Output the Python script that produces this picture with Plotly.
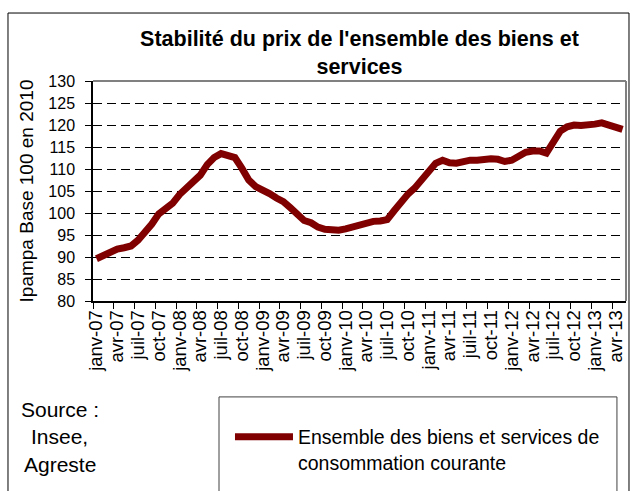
import plotly.graph_objects as go

# Indice Ipampa (base 100 en 2010), mensuel, janv-07 -> mai-13
mois_courts = ["janv", "févr", "mars", "avr", "mai", "juin",
               "juil", "août", "sept", "oct", "nov", "déc"]
annees = ["07", "08", "09", "10", "11", "12", "13"]
mois = [f"{m}-{a}" for a in annees for m in mois_courts][:77]

indice = [
    89.6, 90.3, 91.2, 91.8, 92.1, 92.5, 93.8, 95.5, 97.5, 99.8, 101.2, 102.2,
    104.2, 105.8, 107.2, 108.6, 111.0, 112.6, 113.5, 112.9, 112.6, 110.2, 107.5, 106.0,
    105.3, 104.4, 103.4, 102.6, 101.2, 99.8, 98.3, 97.8, 96.8, 96.3, 96.0, 96.1,
    96.4, 96.8, 97.4, 98.0, 98.1, 98.2, 98.5, 100.5, 102.6, 104.3, 105.7, 107.6,
    109.4, 111.3, 112.0, 111.4, 111.3, 111.7, 112.0, 112.0, 112.3, 112.3, 112.2, 111.7,
    112.0, 113.0, 113.8, 114.1, 114.1, 113.6, 116.2, 118.6, 119.6, 120.0, 119.9, 119.9,
    120.2, 120.5, 120.0, 119.3, 119.0,
]

titre = "<b>Stabilité du prix de l'ensemble des biens et<br>services</b>"
nom_serie = "Ensemble des biens et services de<br>consommation courante"
titre_y = "Ipampa Base 100 en 2010"
source_lignes = ["Source :", "Insee,", "Agreste"]

police = "Liberation Sans, Arial, sans-serif"

fig = go.Figure()
fig.add_trace(go.Scatter(x=mois, y=indice, mode="lines", name=nom_serie,
                         line=dict(color="#800000", width=7)))

fig.update_layout(
    width=632, height=491,
    margin=dict(l=93, r=6, t=81, b=190),
    paper_bgcolor="white", plot_bgcolor="white",
    font=dict(family=police, color="black", size=16),
    title=dict(text=titre, x=0.5, xref="paper", xanchor="center",
               y=1 - 46 / 491, yref="container", yanchor="middle",
               font=dict(size=21.5, family=police)),
    showlegend=True,
    legend=dict(x=0.257, xanchor="left", y=-0.53, yanchor="top",
                bgcolor="rgba(0,0,0,0)", valign="top", itemwidth=58,
                font=dict(size=19.5, family=police)),
)

fig.update_xaxes(type="category", tickmode="linear", tick0=0, dtick=3,
                 tickson="boundaries", ticks="outside", ticklen=6,
                 tickcolor="black", tickangle=-90, showgrid=False,
                 showline=True, linecolor="black", linewidth=1.5,
                 range=[-0.5, 76.5], tickfont=dict(size=18.5))

fig.update_yaxes(range=[80, 130], dtick=5, ticks="outside", ticklen=6,
                 tickcolor="black", showline=True, linecolor="black", linewidth=1.5,
                 showgrid=True, gridcolor="black", gridwidth=1, griddash="9px,5px",
                 ticklabelstandoff=7, tickfont=dict(size=16),
                 title=dict(text=titre_y, font=dict(size=19), standoff=10))

# cadre gris du haut et de droite de la zone de tracé
fig.add_shape(type="line", xref="paper", yref="paper", x0=0, x1=1, y0=1, y1=1,
              line=dict(color="#808080", width=2), layer="above")
fig.add_shape(type="line", xref="paper", yref="paper", x0=1, x1=1, y0=0, y1=1,
              line=dict(color="#808080", width=2), layer="above")
# cadre de la légende
fig.add_shape(type="rect", xref="paper", yref="paper", x0=0.2364, x1=0.983, y0=-1.0, y1=-0.436,
              line=dict(color="#404040", width=1))
# cadre extérieur du graphique
fig.add_shape(type="rect", xref="paper", yref="paper", x0=-0.1595, x1=1.0056, y0=-1.0, y1=1.309,
              line=dict(color="black", width=1))

for texte, yp in zip(source_lignes, [-0.495, -0.618, -0.745]):
    fig.add_annotation(text=texte, xref="paper", yref="paper", x=-0.062, y=yp,
                       xanchor="center", yanchor="middle", showarrow=False,
                       font=dict(size=21, family=police))

# pas de marge autour du graphique dans la page, pas de barre d'outils
fig.write_html("out.html", config={"displayModeBar": False},
               post_script="document.body.style.margin = '0';")
